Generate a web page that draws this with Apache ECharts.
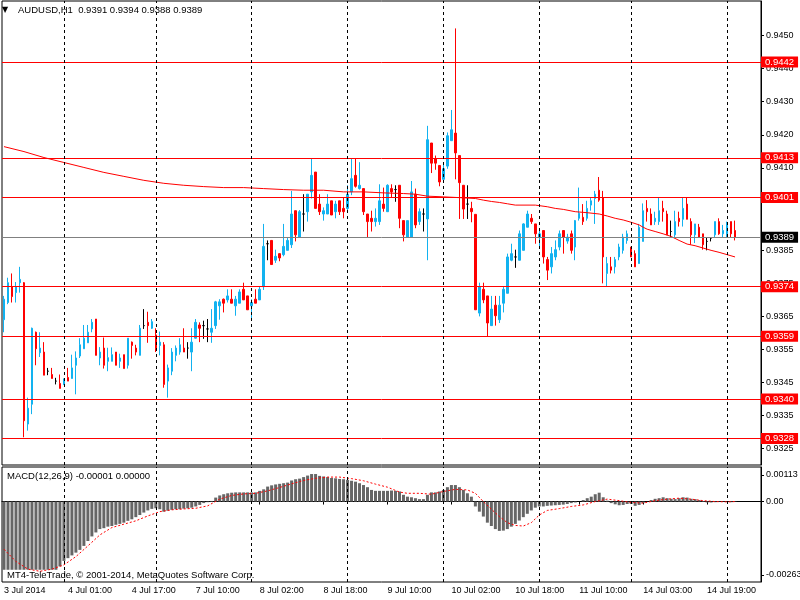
<!DOCTYPE html>
<html><head><meta charset="utf-8">
<script src="https://cdn.jsdelivr.net/npm/echarts@6/dist/echarts.min.js"></script>
<style>html,body{margin:0;padding:0;background:#fff}#c{width:800px;height:600px}</style>
</head><body><div id="c"></div>
<script>
// ---- time axis: H1 sessions (day, first hour, last hour) ----
const sessions = [['3 Jul',9,23],['4 Jul',0,22],['7 Jul',0,23],['8 Jul',0,23],['9 Jul',0,23],['10 Jul',0,23],['11 Jul',0,22],['14 Jul',0,23],['15 Jul',0,8]];
const firstLabel = '3 Jul 2014';

// ---- AUDUSD H1 OHLC ----
const opens = [
.93640,.93692,.93740,.93722,.93752,.93752,.93324,.93384,.93602,.93540,
.93542,.93484,.93474,.93454,.93447,.93445,.93465,.93462,.93502,.93530,
.93552,.93570,.93612,.93642,.93524,.93554,.93514,.93514,.93542,.93514,
.93534,.93502,.93572,.93554,.93532,.93622,.93632,.93614,.93594,.93562,
.93564,.93454,.93484,.93532,.93542,.93554,.93554,.93542,.93584,.93624,
.93622,.93612,.93602,.93622,.93682,.93702,.93700,.93702,.93682,.93690,
.93732,.93712,.93682,.93702,.93700,.93740,.93870,.93880,.93820,.93840,
.93837,.93850,.93867,.93970,.93890,.93960,.93967,.94027,.94087,.93990,
.93960,.93960,.94000,.93967,.94000,.93977,.93977,.94027,.94077,.94037,
.94037,.93960,.93947,.93937,.93937,.93990,.93967,.94037,.94034,.94047,
.93940,.93890,.93890,.94020,.93937,.93960,.93945,.94175,.94127,.94107,
.94065,.94105,.94182,.94205,.94137,.94047,.93990,.93977,.93959,.93660,
.93732,.93712,.93622,.93684,.93640,.93690,.93720,.93820,.93830,.93820,
.93850,.93920,.93947,.93930,.93890,.93910,.93822,.93800,.93830,.93860,
.93910,.93878,.93900,.93860,.93947,.93950,.93947,.93987,.94007,.94032,
.94010,.93780,.93800,.93800,.93830,.93850,.93880,.93860,.93840,.93810,
.93877,.93977,.93960,.93937,.93937,.93977,.93960,.93907,.93897,.93947,
.93944,.93990,.93937,.93897,.93920,.93900,.93877,.93887,.93897,.93937,
.93900,.93900,.93937,.93910];
const closes = [
.93702,.93752,.93710,.93740,.93762,.93334,.93372,.93614,.93552,.93554,
.93472,.93484,.93462,.93454,.93432,.93455,.93454,.93494,.93524,.93564,
.93584,.93602,.93632,.93532,.93542,.93502,.93525,.93534,.93502,.93524,
.93492,.93584,.93562,.93542,.93614,.93622,.93622,.93634,.93554,.93572,
.93444,.93494,.93542,.93554,.93564,.93542,.93554,.93572,.93632,.93614,
.93622,.93612,.93614,.93694,.93694,.93690,.93712,.93690,.93702,.93724,
.93700,.93670,.93692,.93690,.93732,.93862,.93870,.93807,.93832,.93827,
.93862,.93880,.93960,.93897,.93967,.93960,.94020,.94077,.93977,.93967,
.93970,.93990,.93957,.93990,.93967,.93967,.94020,.94067,.94044,.94047,
.93967,.93937,.93937,.93947,.94000,.93977,.94047,.94027,.94034,.93947,
.93897,.93940,.94027,.93927,.93967,.93960,.94185,.94114,.94114,.94057,
.94097,.94197,.94215,.94145,.94055,.93975,.93990,.93967,.93670,.93740,
.93700,.93630,.93672,.93652,.93684,.93732,.93830,.93840,.93830,.93900,
.93930,.93960,.93937,.93900,.93900,.93830,.93790,.93840,.93852,.93900,
.93890,.93890,.93850,.93940,.93962,.93937,.93977,.94000,.94020,.94002,
.93830,.93810,.93790,.93822,.93860,.93890,.93900,.93830,.93800,.93920,
.93970,.93967,.93927,.93947,.93970,.93967,.93897,.93907,.93937,.93937,
.93977,.93944,.93897,.93930,.93890,.93867,.93877,.93887,.93937,.93900,
.93910,.93930,.93900,.93890];
const lows = [
.93602,.93687,.93692,.93692,.93722,.93284,.93304,.93354,.93502,.93527,
.93472,.93472,.93462,.93444,.93432,.93442,.93454,.93462,.93414,.93524,
.93552,.93570,.93602,.93532,.93502,.93492,.93484,.93514,.93502,.93494,
.93492,.93492,.93522,.93532,.93532,.93612,.93570,.93612,.93542,.93532,
.93434,.93404,.93472,.93514,.93534,.93542,.93522,.93484,.93582,.93572,
.93582,.93572,.93570,.93612,.93640,.93662,.93692,.93690,.93652,.93690,
.93700,.93670,.93642,.93690,.93700,.93730,.93820,.93807,.93812,.93817,
.93832,.93850,.93857,.93877,.93890,.93907,.93937,.94007,.93977,.93957,
.93940,.93960,.93957,.93947,.93957,.93947,.93967,.94017,.94040,.94034,
.93957,.93890,.93907,.93922,.93927,.93967,.93967,.94010,.93997,.93917,
.93877,.93890,.93890,.93917,.93927,.93907,.93820,.94084,.94094,.94044,
.94055,.94097,.94182,.94065,.93945,.93945,.93945,.93935,.93670,.93650,
.93690,.93590,.93622,.93622,.93630,.93662,.93720,.93817,.93797,.93820,
.93850,.93920,.93930,.93870,.93860,.93810,.93760,.93780,.93820,.93850,
.93840,.93870,.93840,.93820,.93940,.93927,.93940,.93970,.93930,.93997,
.93750,.93740,.93780,.93780,.93820,.93840,.93870,.93830,.93800,.93810,
.93877,.93937,.93927,.93927,.93927,.93937,.93897,.93890,.93890,.93922,
.93922,.93944,.93867,.93872,.93890,.93852,.93850,.93877,.93890,.93897,
.93890,.93890,.93890,.93880];
const highs = [
.93712,.93767,.93780,.93754,.93800,.93754,.93404,.93616,.93604,.93602,
.93572,.93494,.93494,.93464,.93474,.93462,.93494,.93534,.93544,.93584,
.93624,.93624,.93642,.93642,.93557,.93586,.93555,.93556,.93542,.93537,
.93534,.93584,.93574,.93564,.93624,.93672,.93664,.93642,.93614,.93604,
.93572,.93504,.93554,.93562,.93584,.93614,.93572,.93614,.93642,.93632,
.93637,.93642,.93672,.93697,.93702,.93704,.93732,.93732,.93712,.93732,
.93752,.93712,.93702,.93732,.93742,.93930,.93880,.93880,.93852,.93840,
.93930,.93890,.94030,.93970,.93972,.94020,.94020,.94127,.94087,.94020,
.93980,.94020,.94000,.94000,.94000,.94010,.94047,.94127,.94127,.94117,
.94037,.93960,.93970,.93977,.94050,.94040,.94050,.94050,.94047,.94047,
.93940,.93940,.94060,.94037,.93977,.93977,.94227,.94175,.94137,.94107,
.94117,.94207,.94275,.94522,.94137,.94047,.94047,.93997,.93959,.93752,
.93752,.93712,.93712,.93712,.93712,.93742,.93840,.93870,.93852,.93910,
.93932,.93970,.93960,.93930,.93910,.93910,.93830,.93860,.93880,.93910,
.93910,.93900,.93910,.93942,.94040,.93990,.94000,.94010,.94030,.94072,
.94030,.93830,.93830,.93830,.93870,.93900,.93910,.93860,.93850,.93930,
.93992,.94002,.93977,.93967,.94010,.94000,.93970,.93940,.93970,.93967,
.94010,.94010,.93947,.93930,.93930,.93900,.93890,.93890,.93937,.93947,
.93927,.93937,.93937,.93940];

// ---- moving average (read at selected bars) ----
const maBars   = [0,5,10,15,20,25,30,35,40,45,50,55,60,65,70,75,80,85,90,95,100,103,106,110,115,118,120,122,124,126,128,133,136,138,140,143,146,149,151,153,155,157,159,160,161,163,165,167,169,171,173,175,177,179,181,183];
const maValues = [.94164,.94149,.94131,.94116,.94101,.94086,.94074,.94062,.94053,.94047,.94043,.94040,.94040,.94037,.94034,.94032,.94032,.94027,.94027,.94024,.94022,.94020,.94014,.94012,.94009,.94007,.94002,.93998,.93995,.93991,.93987,.93987,.93982,.93977,.93974,.93967,.93964,.93960,.93954,.93947,.93942,.93935,.93927,.93920,.93914,.93907,.93900,.93892,.93880,.93869,.93864,.93857,.93850,.93844,.93837,.93830];

// ---- horizontal levels & last price ----
const levels = [0.9442, 0.9413, 0.9401, 0.9374, 0.9359, 0.9340, 0.9328];
const lastPrice = 0.9389;
const priceTicks = [0.9450,0.9440,0.9430,0.9420,0.9410,0.9400,0.9385,0.9375,0.9365,0.9355,0.9345,0.9335,0.9325];

// ---- MACD(12,26,9) histogram and signal ----
const macdHist = [
-0.00223,-0.00223,-0.00223,-0.00223,-0.00223,-0.00223,-0.00223,-0.00223,-0.00223,-0.00223,
-0.00223,-0.00223,-0.00223,-0.00223,-0.00212,-0.00194,-0.00185,-0.00176,-0.00167,-0.00158,
-0.00145,-0.00129,-0.00114,-0.00101,-0.00090,-0.00087,-0.00082,-0.00080,-0.00076,-0.00073,
-0.00069,-0.00063,-0.00058,-0.00051,-0.00044,-0.00036,-0.00029,-0.00024,-0.00022,-0.00025,
-0.00033,-0.00030,-0.00027,-0.00025,-0.00025,-0.00023,-0.00022,-0.00020,-0.00016,-0.00011,
-0.00005,-0.00002,0.00002,0.00013,0.00020,0.00024,0.00027,0.00029,0.00030,0.00030,
0.00030,0.00030,0.00030,0.00030,0.00035,0.00040,0.00049,0.00053,0.00056,0.00058,
0.00060,0.00062,0.00069,0.00073,0.00075,0.00080,0.00085,0.00090,0.00090,0.00084,
0.00082,0.00080,0.00077,0.00076,0.00074,0.00073,0.00071,0.00068,0.00065,0.00060,
0.00054,0.00047,0.00038,0.00035,0.00035,0.00035,0.00035,0.00036,0.00035,0.00033,
0.00022,0.00016,0.00014,0.00011,0.00008,0.00008,0.00022,0.00030,0.00030,0.00033,
0.00038,0.00047,0.00054,0.00054,0.00047,0.00038,0.00027,0.00016,-0.00016,-0.00033,
-0.00049,-0.00069,-0.00080,-0.00090,-0.00096,-0.00095,-0.00090,-0.00082,-0.00073,-0.00062,
-0.00051,-0.00040,-0.00029,-0.00020,-0.00016,-0.00016,-0.00014,-0.00013,-0.00012,-0.00011,
-0.00010,-0.00008,-0.00005,-0.00003,0.00000,0.00005,0.00011,0.00016,0.00024,0.00029,
0.00014,0.00003,-0.00005,-0.00009,-0.00012,-0.00011,-0.00008,-0.00008,-0.00014,-0.00011,
-0.00005,0.00000,0.00005,0.00009,0.00011,0.00014,0.00011,0.00009,0.00008,0.00011,
0.00014,0.00013,0.00009,0.00008,0.00005,0.00002,-0.00003,-0.00003,-0.00002,-0.00001,
-0.00001,-0.00001,-0.00002,-0.00001];
const sigBars   = [0,3,6,9,12,15,18,21,24,27,30,33,36,39,42,45,48,51,54,57,60,63,66,69,72,75,78,81,84,87,90,93,96,99,101,104,107,110,113,116,118,120,122,124,126,128,130,132,134,136,139,142,145,148,151,154,157,160,163,166,169,172,175,178,181,183];
const sigValues = [-0.00156,-0.00196,-0.00221,-0.00228,-0.00221,-0.00207,-0.00180,-0.00145,-0.00109,-0.00085,-0.00074,-0.00063,-0.00047,-0.00033,-0.00027,-0.00024,-0.00022,-0.00014,0.00008,0.00020,0.00025,0.00027,0.00035,0.00046,0.00058,0.00069,0.00076,0.00080,0.00080,0.00075,0.00068,0.00057,0.00047,0.00031,0.00027,0.00027,0.00024,0.00033,0.00040,0.00038,0.00027,0.00000,-0.00025,-0.00049,-0.00069,-0.00078,-0.00080,-0.00069,-0.00044,-0.00029,-0.00023,-0.00016,-0.00011,0.00000,0.00008,0.00003,-0.00003,-0.00005,0.00003,0.00008,0.00011,0.00008,0.00003,0.00000,-0.00001,0.00000];
const macdMax = 0.00113, macdMin = -0.00263;

// ---- build tables for the library ----
const categories = [];
sessions.forEach(([d,a,b]) => { for (let h=a; h<=b; h++) categories.push(d+' '+String(h).padStart(2,'0')+':00'); });
const nBars = opens.length;
const candles = opens.map((o,i) => [o, closes[i], lows[i], highs[i]]);
const maData = maBars.map((b,i) => [b, maValues[i]]);
const sigData = sigBars.map((b,i) => [b, sigValues[i]]);
const midnights = [];
categories.forEach((c,i) => { if (i>0 && c.endsWith(' 00:00')) midnights.push(i); });
const labelInt = (idx) => idx % 16 === 0 && idx < nBars;

const FONT = 'Liberation Sans';
const UP = '#12B2F0', DOWN = '#FF0000';
const vLine = (i) => ({xAxis: categories[i], lineStyle:{color:'#000', type:[3,3], width:1}, label:{show:false}});
const tag = (v, bg, lc) => ({
  yAxis: v,
  lineStyle: {color: lc, type:'solid', width:1},
  label: {show:true, position:'end', distance:0, formatter: v.toFixed(4), backgroundColor: bg, color:'#fff',
          padding:[1,4,0,4], fontSize:9.5, lineHeight:10, fontFamily:FONT}
});

const chart = echarts.init(document.getElementById('c'), null, {renderer:'canvas'});
chart.setOption({
  animation:false,
  backgroundColor:'#fff',
  textStyle:{fontFamily:FONT},
  grid:[
    {left:2, right:39, top:1, height:464, show:true, borderColor:'#000', borderWidth:1, outerBoundsMode:'none', containLabel:false},
    {left:2, right:39, top:467, height:115, show:true, borderColor:'#000', borderWidth:1, outerBoundsMode:'none', containLabel:false}
  ],
  xAxis:[
    {type:'category', gridIndex:0, data:categories, boundaryGap:true,
     axisLine:{show:false}, axisTick:{show:false}, axisLabel:{show:false}, splitLine:{show:false}},
    {type:'category', gridIndex:1, data:categories, boundaryGap:true,
     axisLine:{show:true, lineStyle:{color:'#000', width:1}},
     axisTick:{show:true, interval:labelInt, alignWithLabel:true, length:3, lineStyle:{color:'#000'}},
     axisLabel:{show:true, interval:labelInt, align:'left', margin:4, fontSize:9, color:'#000', fontFamily:FONT,
                formatter:(v,i) => i===0 ? firstLabel : v},
     splitLine:{show:false}}
  ],
  yAxis:[
    {type:'value', gridIndex:0, position:'right', min:0.932, max:0.94605,
     axisLine:{show:true, lineStyle:{color:'#000'}},
     axisTick:{show:true, customValues:priceTicks, length:3, lineStyle:{color:'#000'}},
     axisLabel:{show:true, customValues:priceTicks, formatter:v => v.toFixed(4), margin:5, fontSize:9, color:'#000', fontFamily:FONT},
     splitLine:{show:false}},
    {type:'value', gridIndex:1, position:'right', min:macdMin, max:macdMax,
     axisLine:{show:true, lineStyle:{color:'#000'}},
     axisTick:{show:true, customValues:[0.00087, 0, -0.0024], length:3, lineStyle:{color:'#000'}},
     axisLabel:{show:true, customValues:[0], formatter:() => '0.00', margin:5, fontSize:9, color:'#000', fontFamily:FONT},
     splitLine:{show:false}}
  ],
  series:[
    {type:'candlestick', name:'AUDUSD', xAxisIndex:0, yAxisIndex:0, data:candles, barWidth:2,
     itemStyle:{color:UP, color0:DOWN, borderColor:UP, borderColor0:DOWN, borderColorDoji:'#000', borderWidth:1},
     markLine:{silent:true, symbol:['none','none'], animation:false, precision:6,
       data:[...levels.map(v => tag(v, '#FF0000', '#FF0000')), tag(lastPrice, '#000', '#808080'), ...midnights.map(vLine)]}},
    {type:'line', name:'MA', xAxisIndex:0, yAxisIndex:0, data:maData, showSymbol:false, symbol:'none', z:3,
     lineStyle:{color:'#FF0000', width:1}},
    {type:'bar', name:'MACD', xAxisIndex:1, yAxisIndex:1, data:macdHist, barWidth:3,
     itemStyle:{color:'#666666'},
     markLine:{silent:true, symbol:['none','none'], animation:false, data:midnights.map(vLine)}},
    {type:'line', name:'Signal', xAxisIndex:1, yAxisIndex:1, data:sigData, showSymbol:false, symbol:'none', z:3,
     lineStyle:{color:'#FF0000', width:1, type:[2,2]}}
  ],
  graphic:[
    {type:'text', x:2, y:10, style:{text:'▼', fontSize:8, fontFamily:'DejaVu Sans', fill:'#000', verticalAlign:'middle'}},
    {type:'text', x:18, y:10, style:{text:'AUDUSD,H1  0.9391 0.9394 0.9388 0.9389', fontSize:9.5, fontFamily:FONT, fill:'#000', verticalAlign:'middle'}},
    {type:'text', x:7, y:476, style:{text:'MACD(12,26,9) -0.00001 0.00000', fontSize:9.5, fontFamily:FONT, fill:'#000', verticalAlign:'middle'}},
    {type:'text', x:7, y:575, style:{text:'MT4-TeleTrade, © 2001-2014, MetaQuotes Software Corp.', fontSize:9.5, fontFamily:FONT, fill:'#000', verticalAlign:'middle'}},
    {type:'text', x:766, y:475, style:{text:'0.00113', fontSize:9, fontFamily:FONT, fill:'#000', verticalAlign:'middle'}},
    {type:'text', x:766, y:575, style:{text:'-0.00263', fontSize:9, fontFamily:FONT, fill:'#000', verticalAlign:'middle'}}
  ]
});
</script></body></html>
